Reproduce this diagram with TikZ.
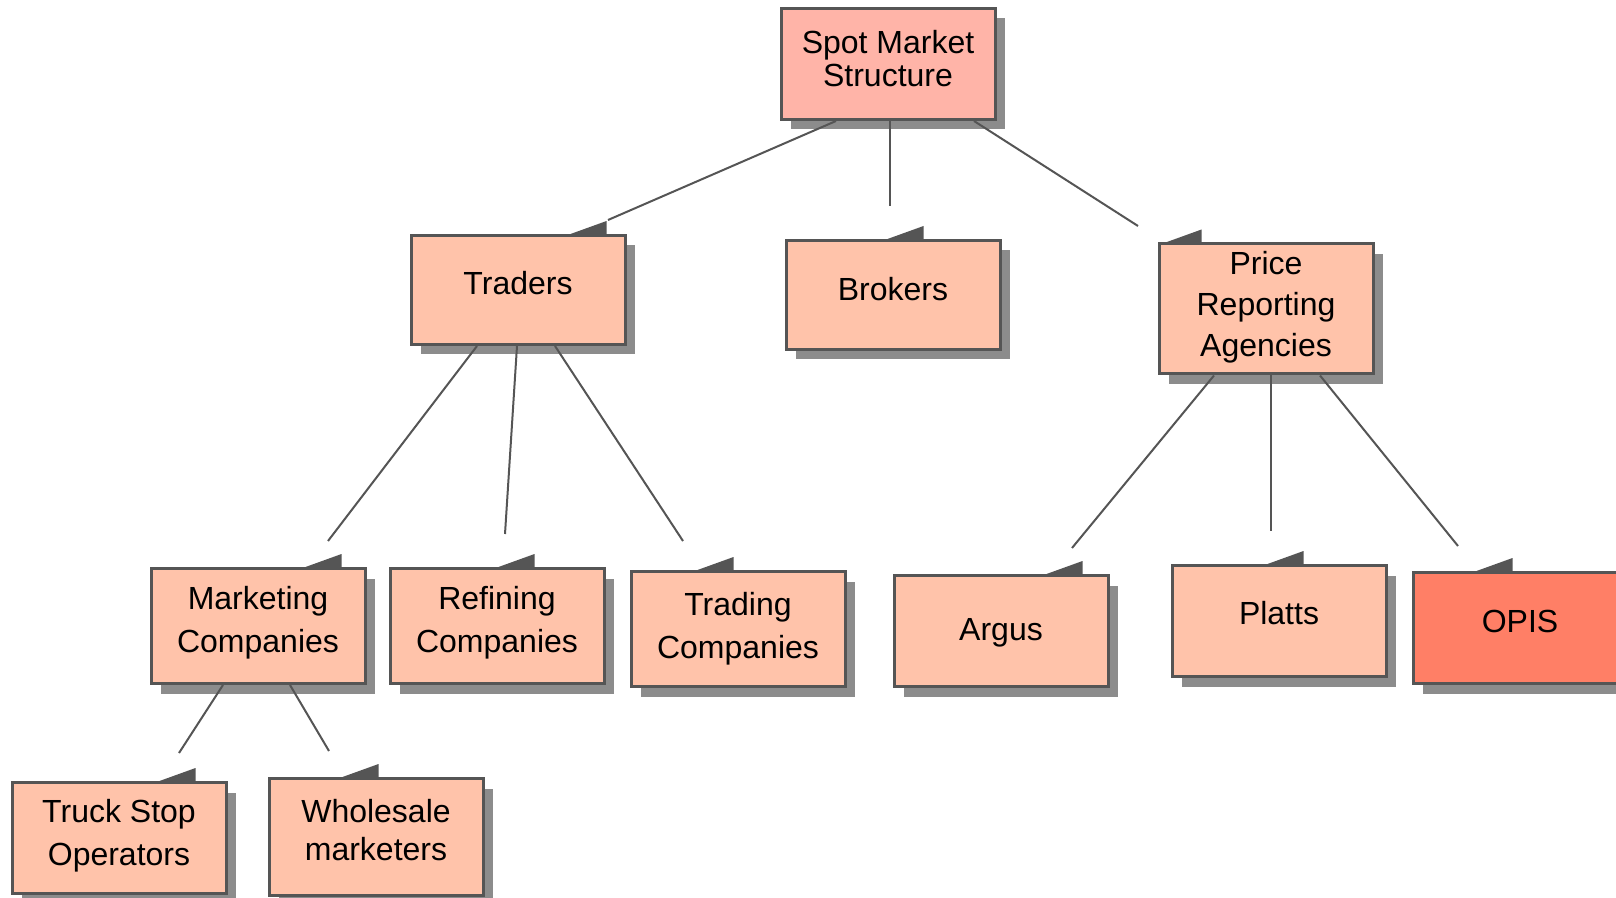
\documentclass[tikz,border=0pt]{standalone}
\usepackage{fontspec}
\setmainfont{Liberation Sans}
\usetikzlibrary{calc,shadows}

\definecolor{peach}{RGB}{255,195,170}
\definecolor{rootpink}{RGB}{255,180,168}
\definecolor{opisred}{RGB}{255,127,102}
\definecolor{edgegray}{RGB}{85,85,85}

\begin{document}
\begin{tikzpicture}[x=0.5pt,y=-0.5pt]
            \useasboundingbox (0,0) rectangle (1616,898);
            \tikzset{Box/.style={draw=edgegray,line width=1.5pt,fill=peach,
                       minimum width=107pt,minimum height=55.5pt,inner sep=2pt,align=center,
                       font=\fontsize{16}{21.5}\selectfont,
                       drop shadow={shadow xshift=5pt,shadow yshift=-5pt,fill=black!45,opacity=1}},
                     EdgeStyle/.style={draw=edgegray,line width=1pt},
                     TabStyle/.style={fill=edgegray}}

            \node[Box,fill=rootpink,font=\fontsize{16}{16.5}\selectfont,text depth=5.2pt] (spot) at (888,64) {Spot Market\\Structure};

            \node[Box,minimum height=54.5pt,text depth=7.2pt] (traders) at (518,290) {Traders};
            \node[Box,minimum height=54.5pt,text depth=6.2pt] (brokers) at (893,295) {Brokers};
            \node[Box,minimum height=65pt,font=\fontsize{16}{20.5}\selectfont,text depth=5.4pt] (pra) at (1266,309) {Price\\Reporting\\Agencies};

            \node[Box,minimum height=57.5pt,text depth=7pt] (marketing) at (258,626) {Marketing\\Companies};
            \node[Box,minimum height=57.5pt,text depth=7pt] (refining) at (497,626) {Refining\\Companies};
            \node[Box,minimum height=57.5pt] (trading) at (738,629) {Trading\\Companies};
            \node[Box,text depth=2pt] (argus) at (1001,631) {Argus};
            \node[Box,text depth=7.7pt] (platts) at (1279,621) {Platts};
            \node[Box,fill=opisred,text depth=6.7pt] (opis) at (1520,628) {OPIS};

            \node[Box,text depth=5.9pt] (truck) at (119,838) {Truck Stop\\Operators};
            \node[Box,minimum height=58.5pt,font=\fontsize{16}{19}\selectfont,text depth=6.7pt] (wholesale) at (376,837) {Wholesale\\marketers};

            \foreach \n/\d in {traders/197,brokers/139,pra/44,marketing/192,refining/146,trading/104,
                               argus/190,platts/133,opis/101,truck/185,wholesale/111}
              \fill[TabStyle] ($(\n.north west)+(\d,0)$) -- ++(0,-13) -- ++(-36,13) -- cycle;

            \coordinate (e-traders) at (608,220);
            \coordinate (e-brokers) at (890,206);
            \coordinate (e-pra) at (1138,226);
            \coordinate (e-marketing) at (328,541);
            \coordinate (e-refining) at (505,534);
            \coordinate (e-trading) at (683,541);
            \coordinate (e-argus) at (1072,548);
            \coordinate (e-platts) at (1271,531);
            \coordinate (e-opis) at (1458,546);
            \coordinate (e-truck) at (179,753);
            \coordinate (e-wholesale) at (329,751);

            \draw[EdgeStyle] ($(spot.south)+(-52,0)$) -- (e-traders);
            \draw[EdgeStyle] ($(spot.south)+(2,0)$) -- (e-brokers);
            \draw[EdgeStyle] ($(spot.south)+(86,0)$) -- (e-pra);

            \draw[EdgeStyle] ($(traders.south)+(-41,0)$) -- (e-marketing);
            \draw[EdgeStyle] ($(traders.south)+(-1,0)$) -- (e-refining);
            \draw[EdgeStyle] ($(traders.south)+(37,0)$) -- (e-trading);

            \draw[EdgeStyle] ($(pra.south)+(-52,0)$) -- (e-argus);
            \draw[EdgeStyle] ($(pra.south)+(5,0)$) -- (e-platts);
            \draw[EdgeStyle] ($(pra.south)+(54,0)$) -- (e-opis);

            \draw[EdgeStyle] ($(marketing.south)+(-35,0)$) -- (e-truck);
            \draw[EdgeStyle] ($(marketing.south)+(32,0)$) -- (e-wholesale);
          \end{tikzpicture}
\end{document}
